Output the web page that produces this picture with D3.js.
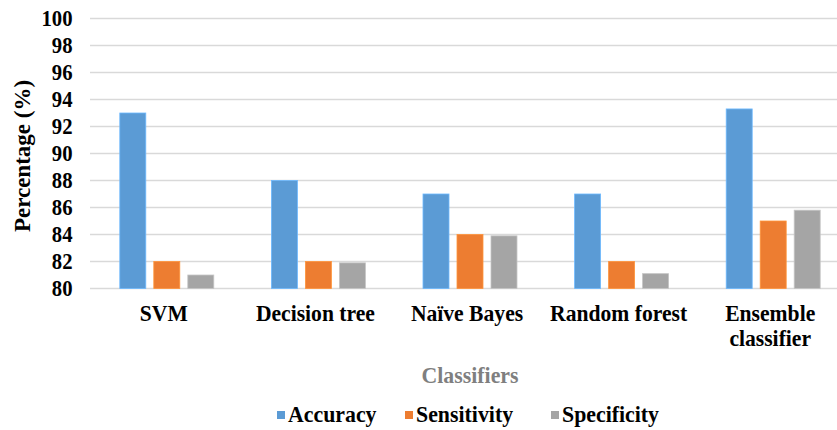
<!DOCTYPE html>
<html><head><meta charset="utf-8">
<script src="https://cdn.jsdelivr.net/npm/d3@7"></script>
</head><body style="margin:0">
<svg id="c" width="837" height="430"></svg>
<script>
const categories = ["SVM", "Decision tree", "Naïve Bayes", "Random forest", "Ensemble classifier"];
const seriesNames = ["Accuracy", "Sensitivity", "Specificity"];
const accuracy = [93, 88, 87, 87, 93.3];
const sensitivity = [82, 82, 84, 82, 85];
const specificity = [81, 81.9, 83.9, 81.1, 85.8];
const yTicks = [80, 82, 84, 86, 88, 90, 92, 94, 96, 98, 100];
const colors = ["#5B9BD5", "#ED7D31", "#A5A5A5"];

const series = [accuracy, sensitivity, specificity];
const FONT = "Liberation Serif";
const svg = d3.select("#c");
const y = d3.scaleLinear().domain([80, 100]).range([288.5, 18.5]);
const x0 = d3.scaleBand().domain(categories).range([91, 849]).paddingInner(0.38).paddingOuter(0.19);
const x1 = d3.scaleBand().domain(seriesNames).range([0, x0.bandwidth()]).paddingInner(8/34);

function label(parent, x, yy, str, size, sx, anchor, fill) {
  const g = parent.append("g").attr("transform", `translate(${x},${yy}) scale(${sx},1)`);
  return g.append("text").attr("x", 0).attr("y", 0)
    .attr("font-family", FONT).attr("font-weight", "bold").attr("font-size", size)
    .attr("text-anchor", anchor).attr("fill", fill || "#000").text(str);
}

// gridlines
svg.append("g").selectAll("line").data(yTicks).join("line")
  .attr("x1", 90).attr("x2", 837)
  .attr("y1", d => y(d)).attr("y2", d => y(d))
  .attr("stroke", "#D9D9D9").attr("stroke-width", 1.5);

// y tick labels
const yl = svg.append("g");
yTicks.forEach(d => label(yl, 72.5, y(d) + 7.5, String(d), 23, 0.9, "end"));

// bars
const g = svg.append("g");
categories.forEach((c, i) => {
  seriesNames.forEach((s, j) => {
    g.append("rect")
      .attr("x", x0(c) + x1(s)).attr("width", x1.bandwidth())
      .attr("y", y(series[j][i])).attr("height", y(80) - y(series[j][i]))
      .attr("fill", colors[j])
      .attr("stroke", d3.color(colors[j]).brighter(0.5)).attr("stroke-width", 0.8);
  });
});

// category labels
const cl = svg.append("g");
categories.forEach(c => {
  const cx = x0(c) + x0.bandwidth() / 2;
  const words = c === "Ensemble classifier" ? ["Ensemble", "classifier"] : [c];
  words.forEach((w, k) => label(cl, cx - 3, 321 + k * 25, w, 23, 0.94, "middle"));
});

// axis titles
label(svg, 470, 383, "Classifiers", 23, 0.95, "middle", "#7F7F7F");
svg.append("text").attr("transform", "translate(30,156) rotate(-90)")
  .attr("font-family", FONT).attr("font-weight", "bold")
  .attr("text-anchor", "middle").attr("font-size", 23).attr("fill", "#000").text("Percentage (%)");

// legend
const legX = [277, 405, 551];
seriesNames.forEach((s, j) => {
  svg.append("rect").attr("x", legX[j]).attr("y", 411).attr("width", 8).attr("height", 8).attr("fill", colors[j]);
  label(svg, legX[j] + 11, 422, s, 23, 0.95, "start");
});
</script>
</body></html>
